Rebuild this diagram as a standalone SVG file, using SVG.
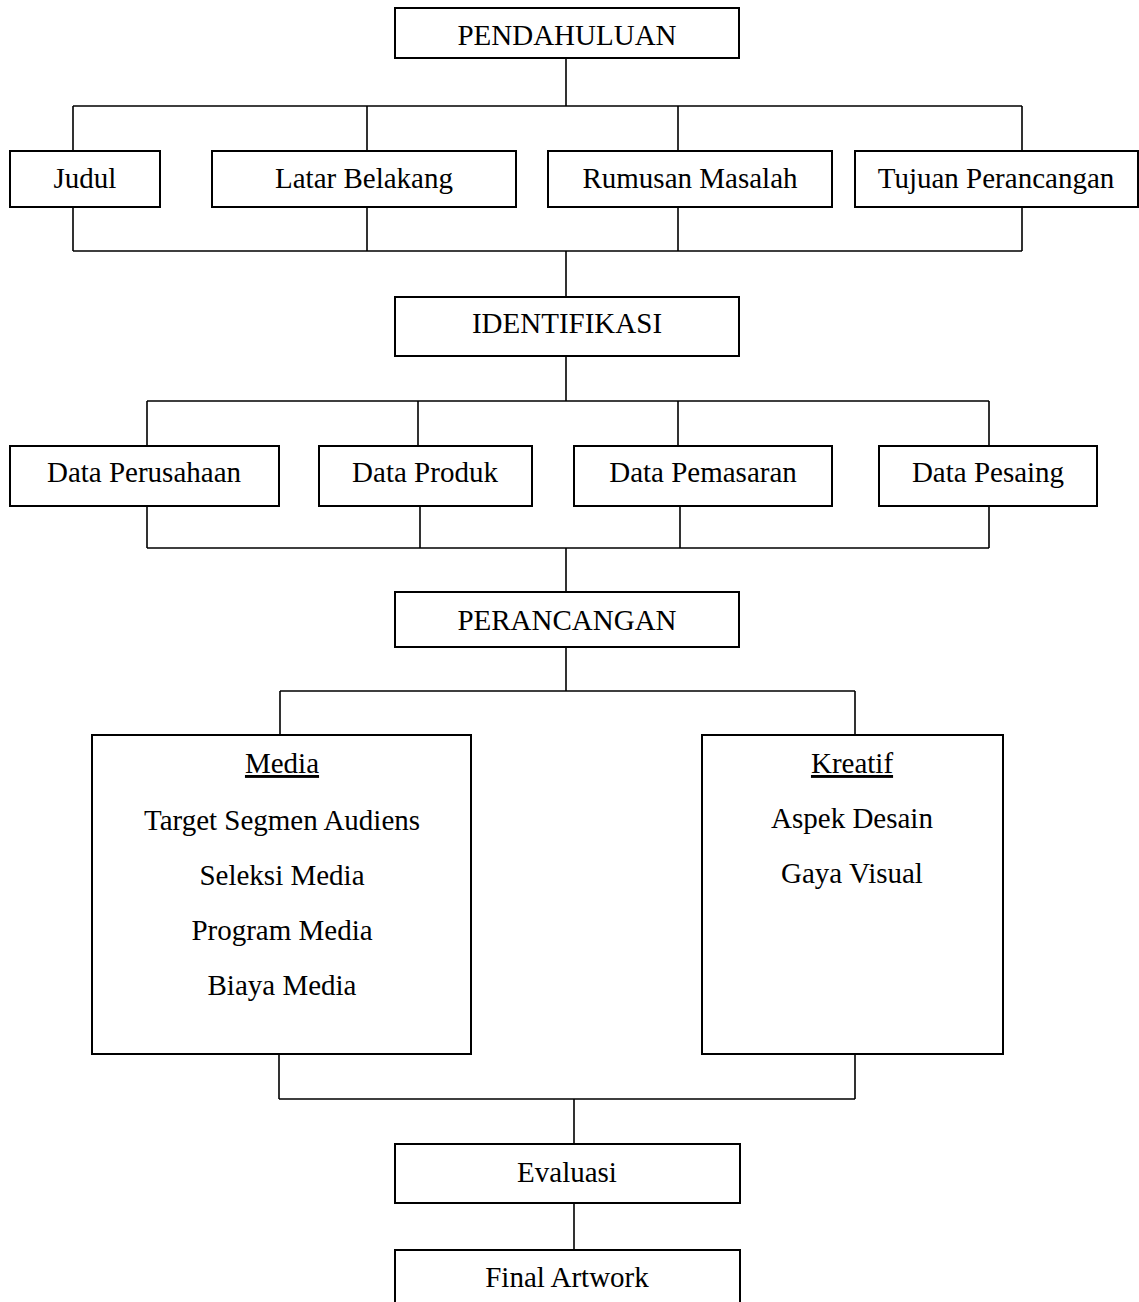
<svg xmlns="http://www.w3.org/2000/svg" width="1139" height="1302" viewBox="0 0 1139 1302">
<style>
.box{fill:#fff;stroke:#000;stroke-width:2}
.ln{fill:none;stroke:#000;stroke-width:1.6}
text{font-family:"Liberation Serif","Times New Roman",serif;font-size:29px;fill:#000;text-anchor:middle}
.u{text-decoration:underline}
</style>
<rect width="1139" height="1302" fill="#fff"/>
<g id="connectors">
<path class="ln" d="M566 58V106M73 106H1022M73 106V151M367 106V151M678 106V151M1022 106V151"/>
<path class="ln" d="M73 207V251M367 207V251M678 207V251M1022 207V251M73 251H1022M566 251V297"/>
<path class="ln" d="M566 356V401M147 401H989M147 401V446M418 401V446M678 401V446M989 401V446"/>
<path class="ln" d="M147 506V548M420 506V548M680 506V548M989 506V548M147 548H989M566 548V592"/>
<path class="ln" d="M566 647V691M280 691H855M280 691V735M855 691V735"/>
<path class="ln" d="M279 1054V1099M855 1054V1099M279 1099H855M574 1099V1144M574 1203V1250"/>
</g>
<g id="pendahuluan"><rect class="box" x="395" y="8" width="344" height="50"/><text x="567" y="45">PENDAHULUAN</text></g>
<g id="judul"><rect class="box" x="10" y="151" width="150" height="56"/><text x="85" y="188">Judul</text></g>
<g id="latar"><rect class="box" x="212" y="151" width="304" height="56"/><text x="364" y="188">Latar Belakang</text></g>
<g id="rumusan"><rect class="box" x="548" y="151" width="284" height="56"/><text x="690" y="188">Rumusan Masalah</text></g>
<g id="tujuan"><rect class="box" x="855" y="151" width="283" height="56"/><text x="996" y="188">Tujuan Perancangan</text></g>
<g id="identifikasi"><rect class="box" x="395" y="297" width="344" height="59"/><text x="567" y="333">IDENTIFIKASI</text></g>
<g id="perusahaan"><rect class="box" x="10" y="446" width="269" height="60"/><text x="144" y="482">Data Perusahaan</text></g>
<g id="produk"><rect class="box" x="319" y="446" width="213" height="60"/><text x="425" y="482">Data Produk</text></g>
<g id="pemasaran"><rect class="box" x="574" y="446" width="258" height="60"/><text x="703" y="482">Data Pemasaran</text></g>
<g id="pesaing"><rect class="box" x="879" y="446" width="218" height="60"/><text x="988" y="482">Data Pesaing</text></g>
<g id="perancangan"><rect class="box" x="395" y="592" width="344" height="55"/><text x="567" y="630">PERANCANGAN</text></g>
<g id="media"><rect class="box" x="92" y="735" width="379" height="319"/>
<text class="u" x="282" y="773">Media</text>
<text x="282" y="830">Target Segmen Audiens</text>
<text x="282" y="885">Seleksi Media</text>
<text x="282" y="940">Program Media</text>
<text x="282" y="995">Biaya Media</text></g>
<g id="kreatif"><rect class="box" x="702" y="735" width="301" height="319"/>
<text class="u" x="852" y="773">Kreatif</text>
<text x="852" y="828">Aspek Desain</text>
<text x="852" y="883">Gaya Visual</text></g>
<g id="evaluasi"><rect class="box" x="395" y="1144" width="345" height="59"/><text x="567" y="1182">Evaluasi</text></g>
<g id="final"><rect class="box" x="395" y="1250" width="345" height="70"/><text x="567" y="1287">Final Artwork</text></g>
</svg>
